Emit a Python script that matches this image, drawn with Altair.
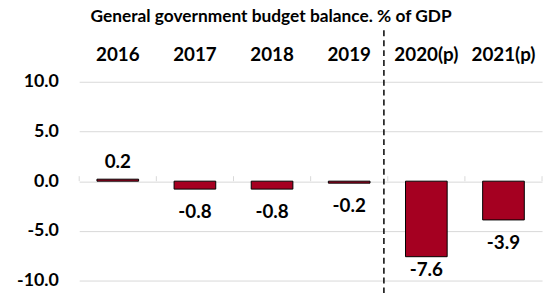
import altair as alt
import pandas as pd

years = ["2016", "2017", "2018", "2019", "2020(p)", "2021(p)"]
values = [0.2, -0.8, -0.8, -0.2, -7.6, -3.9]
y_ticks = [-10, -5, 0, 5, 10]
title_text = "General government budget balance. % of GDP"

df = pd.DataFrame({"year": years, "v": values})

FONT = "Lato"
RED = "#A50021"
GRID = "#D9D9D9"
MINUS_FIX = "replace(format({}, '.1f'), '\u2212', '-')"

x_enc = alt.X(
    "year:N",
    sort=years,
    scale=alt.Scale(paddingInner=0, paddingOuter=0),
    axis=alt.Axis(
        orient="top", title=None, labelAngle=0, ticks=False, domain=False,
        grid=False, bandPosition=0.5, labelFont=FONT, labelFontWeight="bold",
        labelFontSize=19, labelColor="black", labelPadding=18,
    ),
)
y_scale = alt.Scale(domain=[-10, 10], nice=False, zero=True)
y_enc = alt.Y(
    "v:Q",
    scale=y_scale,
    axis=alt.Axis(
        title=None, values=y_ticks, labelExpr=MINUS_FIX.format("datum.value"),
        grid=True, gridColor=GRID, gridWidth=1, domain=False, ticks=False,
        labelFont=FONT, labelFontWeight="bold", labelFontSize=18,
        labelColor="black", labelPadding=21,
    ),
)

base = alt.Chart(df)

bars = base.mark_bar(
    width=alt.RelativeBandSize(0.54), color=RED, stroke="black", strokeWidth=1
).encode(x=x_enc, y=y_enc)

ticks_left = base.mark_rule(color=GRID, strokeWidth=1).encode(
    x=alt.X("year:N", sort=years, bandPosition=0),
    y=alt.datum(0),
    y2=alt.datum(0.5),
)
ticks_right = base.transform_filter(alt.datum.year == years[-1]).mark_rule(
    color=GRID, strokeWidth=1
).encode(
    x=alt.X("year:N", sort=years, bandPosition=1),
    y=alt.datum(0),
    y2=alt.datum(0.5),
)

labels = base.transform_calculate(
    ly="datum.v < 0 ? max(datum.v - 2.3, -8.95) : datum.v + 1.75",
    lab=MINUS_FIX.format("datum.v"),
).mark_text(
    font=FONT, fontWeight="bold", fontSize=19, color="black", baseline="middle"
).encode(
    x=alt.X("year:N", sort=years),
    y=alt.Y("ly:Q", scale=y_scale),
    text="lab:N",
)

divider = base.transform_filter(alt.datum.year == "2019").mark_rule(
    color="black", strokeWidth=1.5, strokeDash=[6, 4]
).encode(
    x=alt.X("year:N", sort=years, bandPosition=0.95),
    y=alt.value(-52),
    y2=alt.value(215),
)

chart = alt.layer(bars, ticks_left, ticks_right, labels, divider).properties(
    width=468,
    height=201,
    autosize=alt.AutoSizeParams(type="none"),
    padding={"left": 72, "top": 73, "right": 4, "bottom": 12},
    title=alt.TitleParams(
        text=title_text, font=FONT, fontWeight="bold", fontSize=17.5,
        color="black", anchor="middle", dx=-40, offset=4,
    ),
).configure_view(stroke=None)

chart.save("out.html", embed_options={"renderer": "svg", "actions": False})
